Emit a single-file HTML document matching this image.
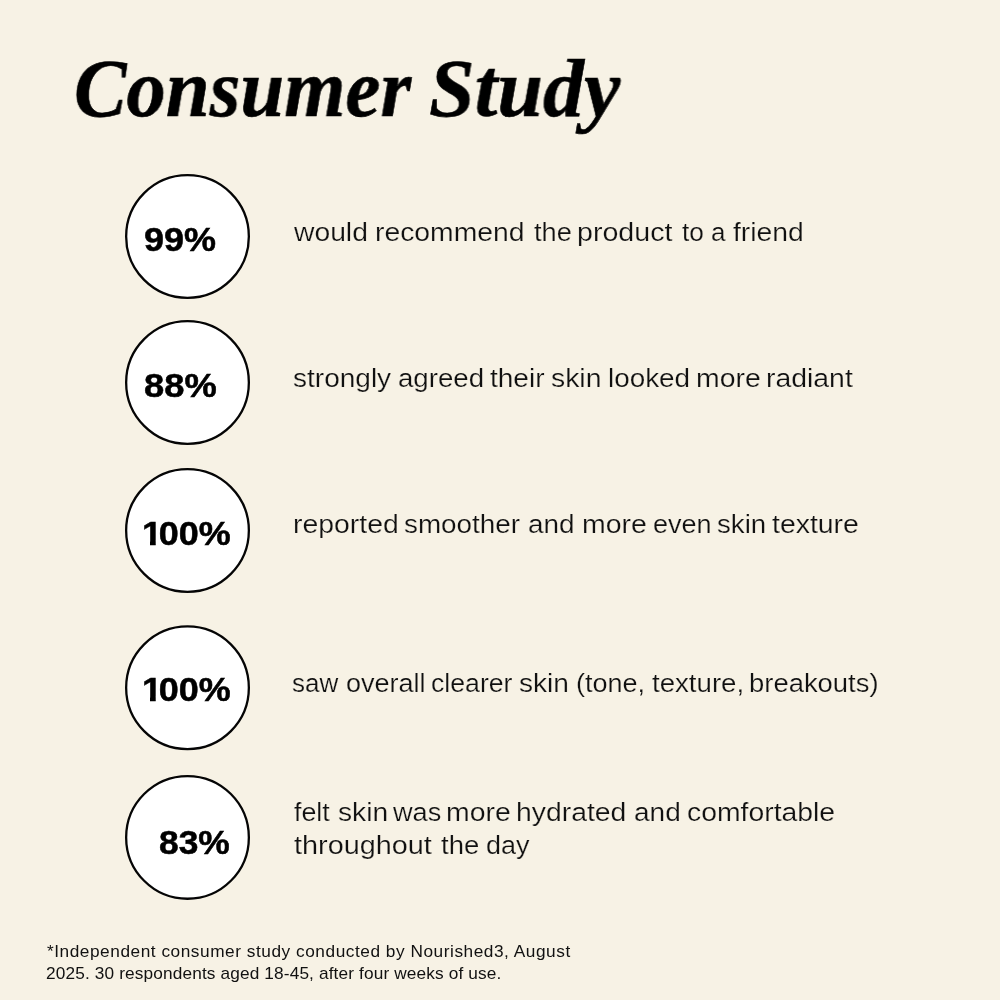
<!DOCTYPE html>
<html lang="en">
<head>
<meta charset="utf-8">
<title>Consumer Study</title>
<style>
  html, body { margin: 0; padding: 0; }
  body { width: 1000px; height: 1000px; background: #f7f2e5; position: relative; overflow: hidden; color: #111; }
  .t { position: absolute; white-space: nowrap; line-height: 1; transform-origin: 0 0; margin: 0; will-change: transform; }
  h1 { margin: 0; font-size: 83px; font-weight: bold; }
  h1 .t { font-family: "Liberation Serif", serif; font-weight: bold; font-style: italic; font-size: 83px; color: #000; -webkit-text-stroke: 0.6px #000; }
  .rings { position: absolute; left: 0; top: 0; }
  .p { font-family: "Liberation Sans", sans-serif; font-weight: bold; font-size: 33px; color: #000; -webkit-text-stroke: 0.5px #000; }
  .one { display: inline-block; clip-path: polygon(0 0, 100% 0, 100% 72%, 68.5% 72%, 68.5% 100%, 40% 100%, 40% 72%, 0 72%); margin-right: -3px; }
  .d { position: absolute; left: 0; font-family: "Liberation Sans", sans-serif; font-size: 25px; line-height: 1; color: #101010; -webkit-text-stroke: 0.2px #f7f2e5; }
  .w { top: 0; }
  .f { font-family: "Liberation Sans", sans-serif; font-size: 15.7px; color: #111; transform: scaleX(1.1); }
</style>
</head>
<body>
  <h1><span class="t" id="t1" style="left:74px; top:47px; transform:scaleX(0.949);">Consumer</span> <span class="t" id="t2" style="left:429.4px; top:47px; transform:scaleX(0.987);">Study</span></h1>

  <svg class="rings" width="1000" height="1000" viewBox="0 0 1000 1000" aria-hidden="true">
    <g fill="#fff" stroke="#050505" stroke-width="2.3">
      <circle cx="187.5" cy="236.5" r="61.35"/>
      <circle cx="187.5" cy="382.5" r="61.35"/>
      <circle cx="187.5" cy="530.5" r="61.35"/>
      <circle cx="187.5" cy="687.7" r="61.35"/>
      <circle cx="187.5" cy="837.4" r="61.35"/>
    </g>
  </svg>

  <div class="t p" id="p1" style="left:143.7px; top:223.2px; transform:scaleX(1.09);">99%</div>
  <div class="t p" id="p2" style="left:144.2px; top:368.5px; transform:scaleX(1.1);">88%</div>
  <div class="t p" id="p3" style="left:142.1px; top:516.6px; transform:scaleX(1.089);"><span class="one">1</span>00%</div>
  <div class="t p" id="p4" style="left:142.1px; top:672.7px; transform:scaleX(1.089);"><span class="one">1</span>00%</div>
  <div class="t p" id="p5" style="left:159px; top:826.2px; transform:scaleX(1.072);">83%</div>

  <div class="d" id="d1" style="top:219.85px;"><span class="t w" style="left:294.0px; transform:scaleX(1.131);">would</span> <span class="t w" style="left:374.9px; transform:scaleX(1.133);">recommend</span> <span class="t w" style="left:533.5px; transform:scaleX(1.088);">the</span> <span class="t w" style="left:577.4px; transform:scaleX(1.144);">product</span> <span class="t w" style="left:682.0px; transform:scaleX(1.050);">to</span> <span class="t w" style="left:710.8px; transform:scaleX(1.040);">a</span> <span class="t w" style="left:733.0px; transform:scaleX(1.133);">friend</span></div>
  <div class="d" id="d2" style="top:365.65px;"><span class="t w" style="left:292.5px; transform:scaleX(1.121);">strongly</span> <span class="t w" style="left:397.5px; transform:scaleX(1.105);">agreed</span> <span class="t w" style="left:490.0px; transform:scaleX(1.121);">their</span> <span class="t w" style="left:551.0px; transform:scaleX(1.134);">skin</span> <span class="t w" style="left:607.5px; transform:scaleX(1.114);">looked</span> <span class="t w" style="left:695.9px; transform:scaleX(1.137);">more</span> <span class="t w" style="left:765.9px; transform:scaleX(1.135);">radiant</span></div>
  <div class="d" id="d3" style="top:512.05px;"><span class="t w" style="left:292.9px; transform:scaleX(1.136);">reported</span> <span class="t w" style="left:404.0px; transform:scaleX(1.114);">smoother</span> <span class="t w" style="left:528.0px; transform:scaleX(1.116);">and</span> <span class="t w" style="left:581.9px; transform:scaleX(1.140);">more</span> <span class="t w" style="left:652.5px; transform:scaleX(1.081);">even</span> <span class="t w" style="left:717.0px; transform:scaleX(1.105);">skin</span> <span class="t w" style="left:772.0px; transform:scaleX(1.137);">texture</span></div>
  <div class="d" id="d4" style="top:670.65px;"><span class="t w" style="left:291.7px; transform:scaleX(1.040);">saw</span> <span class="t w" style="left:346.0px; transform:scaleX(1.081);">overall</span> <span class="t w" style="left:431.0px; transform:scaleX(1.066);">clearer</span> <span class="t w" style="left:519.0px; transform:scaleX(1.124);">skin</span> <span class="t w" style="left:576.0px; transform:scaleX(1.080);">(tone,</span> <span class="t w" style="left:652.0px; transform:scaleX(1.105);">texture,</span> <span class="t w" style="left:749.0px; transform:scaleX(1.097);">breakouts)</span></div>
  <div class="d" id="d5" style="top:799.65px;"><span class="t w" style="left:294.0px; transform:scaleX(1.071);">felt</span> <span class="t w" style="left:337.5px; transform:scaleX(1.129);">skin</span> <span class="t w" style="left:393.0px; transform:scaleX(1.086);">was</span> <span class="t w" style="left:445.9px; transform:scaleX(1.137);">more</span> <span class="t w" style="left:516.4px; transform:scaleX(1.134);">hydrated</span> <span class="t w" style="left:633.5px; transform:scaleX(1.121);">and</span> <span class="t w" style="left:686.5px; transform:scaleX(1.134);">comfortable</span></div>
  <div class="d" id="d6" style="top:832.65px;"><span class="t w" style="left:294.1px; transform:scaleX(1.153);">throughout</span> <span class="t w" style="left:440.5px; transform:scaleX(1.100);">the</span> <span class="t w" style="left:486.0px; transform:scaleX(1.080);">day</span></div>

  <div class="t f" id="f1" style="left:46.6px; top:943.7px; letter-spacing:0.487px;">*Independent consumer study conducted by Nourished3, August</div>
  <div class="t f" id="f2" style="left:45.6px; top:965.7px; letter-spacing:0.119px;">2025. 30 respondents aged 18-45, after four weeks of use.</div>
</body>
</html>
